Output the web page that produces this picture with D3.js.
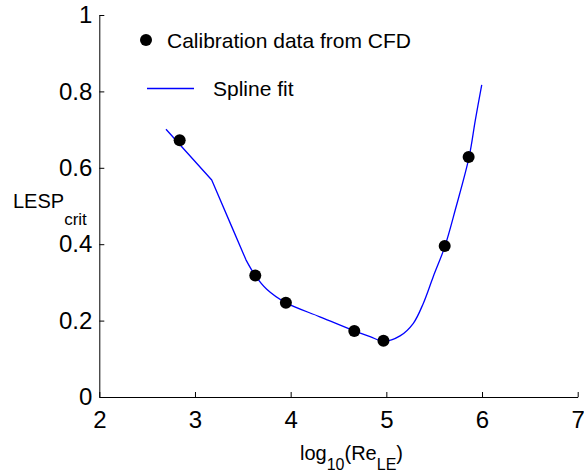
<!DOCTYPE html>
<html>
<head>
<meta charset="utf-8">
<script src="https://d3js.org/d3.v7.min.js"></script>
<style>
body { margin: 0; background: #fff; }
svg text { font-family: "Liberation Sans", Arial, sans-serif; fill: #000; }
</style>
</head>
<body>
<svg width="584" height="475"></svg>
<script>
// calibration points (log10 Re_LE, LESP_crit)
var calX = [2.84, 3.63, 3.95, 4.665, 4.97, 5.61, 5.86];
var calY = [0.672, 0.318, 0.247, 0.173, 0.147, 0.395, 0.628];

// spline fit
var splineX = [2.697, 3.175, 3.384, 3.533, 3.627, 3.75, 3.948, 4.305, 4.665, 4.83, 4.975, 5.143, 5.282, 5.386, 5.49, 5.613, 5.725, 5.864, 5.93, 5.997];
var splineY = [0.701, 0.568, 0.446, 0.359, 0.319, 0.282, 0.247, 0.210, 0.173, 0.158, 0.146, 0.160, 0.193, 0.245, 0.315, 0.395, 0.494, 0.627, 0.725, 0.817];
// the first few knots are joined by straight pieces, the rest is smooth
var straightUpTo = 3;

var xTicks = [2, 3, 4, 5, 6, 7];
var yTicks = [0, 0.2, 0.4, 0.6, 0.8, 1];

var svg = d3.select("svg");

var x = d3.scaleLinear().domain([2, 7]).range([99.3, 577.7]);
var y = d3.scaleLinear().domain([0, 1]).range([397, 15]);

svg.append("g")
  .attr("transform", "translate(0," + y(0) + ")")
  .call(d3.axisBottom(x).tickValues(xTicks).tickFormat(d3.format("d"))
    .tickSizeInner(-5).tickSizeOuter(0).tickPadding(14));

svg.append("g")
  .attr("transform", "translate(" + x(2) + ",0)")
  .call(d3.axisLeft(y).tickValues(yTicks).tickFormat(function(d) { return d === 0 || d === 1 ? d : d3.format(".1f")(d); })
    .tickSizeInner(-5).tickSizeOuter(0).tickPadding(7));

svg.selectAll(".tick text").attr("font-size", 24).attr("font-family", "Liberation Sans, Arial, sans-serif");
svg.selectAll(".domain, .tick line").attr("stroke", "#000").attr("stroke-width", 1);

// spline
var idx = d3.range(splineX.length);
var straight = d3.line()
  .x(function(i) { return x(splineX[i]); })
  .y(function(i) { return y(splineY[i]); });
var smooth = d3.line()
  .x(function(i) { return x(splineX[i]); })
  .y(function(i) { return y(splineY[i]); })
  .curve(d3.curveCatmullRom.alpha(0.5));

svg.append("path")
  .attr("d", straight(idx.slice(0, straightUpTo + 1)) + smooth(idx.slice(straightUpTo)).replace(/^M/, "L"))
  .attr("fill", "none")
  .attr("stroke", "#0000ff")
  .attr("stroke-width", 1.3)
  .attr("stroke-linejoin", "round");

svg.append("g").selectAll("circle")
  .data(calX)
  .enter().append("circle")
    .attr("cx", function(d) { return x(d); })
    .attr("cy", function(d, i) { return y(calY[i]); })
    .attr("r", 6)
    .attr("fill", "#000");

// legend
svg.append("circle").attr("cx", 146).attr("cy", 40).attr("r", 6).attr("fill", "#000");
svg.append("text").attr("x", 167).attr("y", 47.5).attr("font-size", 21).text("Calibration data from CFD");
svg.append("line").attr("x1", 147).attr("x2", 194).attr("y1", 88.5).attr("y2", 88.5)
  .attr("stroke", "#0000ff").attr("stroke-width", 1.3);
svg.append("text").attr("x", 213).attr("y", 95.5).attr("font-size", 21).text("Spline fit");

// axis labels
var yl = svg.append("text").attr("x", 13).attr("y", 208).attr("font-size", 20);
yl.append("tspan").text("LESP");
yl.append("tspan").attr("dy", 17).attr("font-size", 17).text("crit");

var xl = svg.append("text").attr("x", 300).attr("y", 460).attr("font-size", 20);
xl.append("tspan").text("log");
xl.append("tspan").attr("dy", 10).attr("font-size", 16).text("10");
xl.append("tspan").attr("dy", -10).text("(Re");
xl.append("tspan").attr("dy", 10).attr("font-size", 16).text("LE");
xl.append("tspan").attr("dy", -10).text(")");
</script>
</body>
</html>
